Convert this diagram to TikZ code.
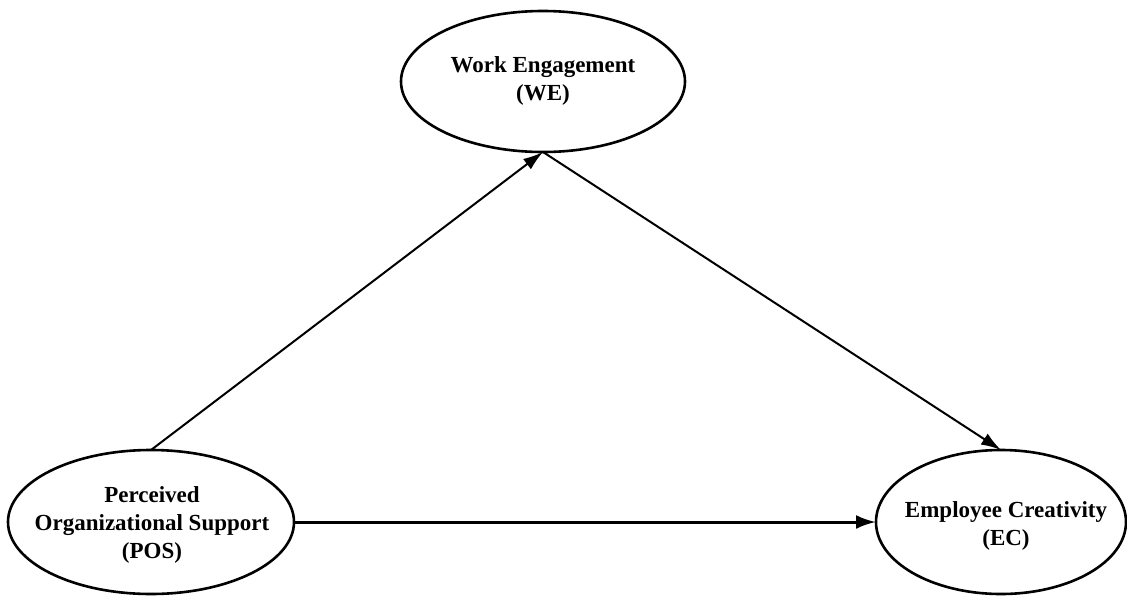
\documentclass[tikz,border=0pt]{standalone}
\usepackage{fontspec}
\setmainfont{Liberation Serif}
\usetikzlibrary{shapes.geometric,arrows.meta}
\begin{document}
\begin{tikzpicture}[x=1pt,y=-1pt,
  construct/.style={ellipse,draw=black,line width=2.6pt,inner sep=0pt,outer sep=0pt},
  label/.style={align=center,inner sep=0pt,font=\fontsize{23}{28}\selectfont\bfseries},
  path1/.style={line width=2pt,-{Latex[length=20pt,width=13pt]}},
  path2/.style={line width=3pt,-{Latex[length=20pt,width=14pt]}}]
\useasboundingbox (0,0) rectangle (1127,597);
\node[construct,minimum width=284pt,minimum height=141pt] (we) at (543,81.5) {};
\node[construct,minimum width=286pt,minimum height=144pt] (pos) at (151,522) {};
\node[construct,minimum width=250pt,minimum height=144pt] (ec) at (1001,522) {};
\node[label] (wet) at (543,81) {Work Engagement\\(WE)};
\node[label] (post) at (152,525) {Perceived\\Organizational Support\\(POS)};
\node[label] (ect) at (1006,526) {Employee Creativity\\(EC)};
\draw[path1] (pos.north) -- (we.south);
\draw[path1] (we.south) -- (ec.north);
\draw[path2] (pos.east) -- (ec.west);
\end{tikzpicture}
\end{document}
